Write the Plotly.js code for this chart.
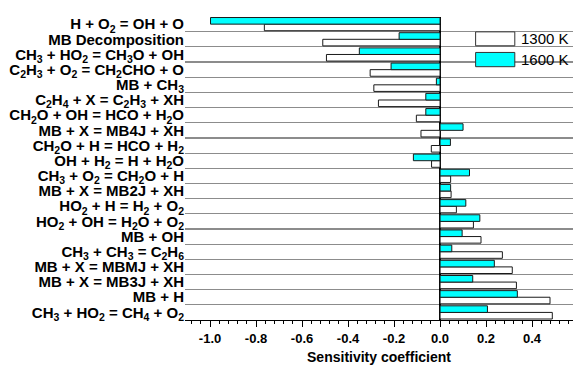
<!DOCTYPE html>
<html>
<head>
<meta charset="utf-8">
<script src="https://cdn.plot.ly/plotly-3.0.1.min.js"></script>
<style>html,body{margin:0;padding:0;background:#fff;}#chart{width:574px;height:365px;}</style>
</head>
<body>
<div id="chart"></div>
<script>
// Reactions, listed top to bottom as in the chart
const reactions = [
  'H + O<sub>2</sub> = OH + O',
  'MB Decomposition',
  'CH<sub>3</sub> + HO<sub>2</sub> = CH<sub>3</sub>O + OH',
  'C<sub>2</sub>H<sub>3</sub> + O<sub>2</sub> = CH<sub>2</sub>CHO + O',
  'MB + CH<sub>3</sub>',
  'C<sub>2</sub>H<sub>4</sub> + X = C<sub>2</sub>H<sub>3</sub> + XH',
  'CH<sub>2</sub>O + OH = HCO + H<sub>2</sub>O',
  'MB + X = MB4J + XH',
  'CH<sub>2</sub>O + H = HCO + H<sub>2</sub>',
  'OH + H<sub>2</sub> = H + H<sub>2</sub>O',
  'CH<sub>3</sub> + O<sub>2</sub> = CH<sub>2</sub>O + H',
  'MB + X = MB2J + XH',
  'HO<sub>2</sub> + H = H<sub>2</sub> + O<sub>2</sub>',
  'HO<sub>2</sub> + OH = H<sub>2</sub>O + O<sub>2</sub>',
  'MB + OH',
  'CH<sub>3</sub> + CH<sub>3</sub> = C<sub>2</sub>H<sub>6</sub>',
  'MB + X = MBMJ + XH',
  'MB + X = MB3J + XH',
  'MB + H',
  'CH<sub>3</sub> + HO<sub>2</sub> = CH<sub>4</sub> + O<sub>2</sub>'
];

const sens1300 = [-0.764, -0.51, -0.494, -0.304, -0.288, -0.268, -0.103, -0.083, -0.038, -0.037,
                  0.046, 0.048, 0.071, 0.145, 0.178, 0.271, 0.314, 0.332, 0.478, 0.488];
const sens1600 = [-0.998, -0.178, -0.351, -0.213, -0.016, -0.062, -0.062, 0.100, 0.045, -0.116,
                  0.128, 0.046, 0.112, 0.173, 0.096, 0.051, 0.236, 0.142, 0.336, 0.206];

const seriesNames = ['1300 K', '1600 K'];
const xTickVals = [-1.0, -0.8, -0.6, -0.4, -0.2, 0.0, 0.2, 0.4];
const xTickText = ['-1.0', '-0.8', '-0.6', '-0.4', '-0.2', '0.0', '0.2', '0.4'];

const FONT = 'Liberation Sans, Arial, Helvetica, sans-serif';

const traces = [
  {
    type: 'bar', orientation: 'h', name: seriesNames[0],
    y: reactions, x: sens1300,
    marker: {color: '#ffffff', line: {color: '#1a1a1a', width: 1}},
    showlegend: false, hoverinfo: 'x+name'
  },
  {
    type: 'bar', orientation: 'h', name: seriesNames[1],
    y: reactions, x: sens1600,
    marker: {color: '#00ffff', line: {color: '#1a1a1a', width: 1}},
    showlegend: false, hoverinfo: 'x+name'
  }
];

// hand-drawn legend (wide swatches as in the original)
const legShapes = [
  {type: 'rect', xref: 'paper', yref: 'paper', x0: 0.749, x1: 0.850, y0: 0.905, y1: 0.951,
   fillcolor: '#ffffff', line: {color: '#333', width: 1}, layer: 'above'},
  {type: 'rect', xref: 'paper', yref: 'paper', x0: 0.749, x1: 0.850, y0: 0.836, y1: 0.883,
   fillcolor: '#00ffff', line: {color: '#333', width: 1}, layer: 'above'}
];
const legAnn = [
  {xref: 'paper', yref: 'paper', x: 0.862, y: 0.928, xanchor: 'left', yanchor: 'middle',
   text: seriesNames[0], showarrow: false, font: {family: FONT, size: 15, color: '#000'}},
  {xref: 'paper', yref: 'paper', x: 0.862, y: 0.860, xanchor: 'left', yanchor: 'middle',
   text: seriesNames[1], showarrow: false, font: {family: FONT, size: 15, color: '#000'}}
];

const layout = {
  width: 574, height: 365,
  margin: {l: 185, r: 1, t: 17, b: 45, pad: 0},
  paper_bgcolor: '#fff', plot_bgcolor: '#fff',
  barmode: 'group', bargap: 0.13, bargroupgap: 0,
  font: {family: FONT, color: '#000'},
  xaxis: {
    range: [-1.109, 0.578],
    tickmode: 'array', tickvals: xTickVals, ticktext: xTickText,
    ticks: 'outside', ticklen: 6, tickwidth: 1, tickcolor: '#000',
    minor: {tickmode: 'linear', tick0: 0, dtick: 0.04, ticks: 'outside', ticklen: 3, tickcolor: '#000', showgrid: false},
    tickfont: {family: FONT, size: 13, weight: 'bold', color: '#000'},
    showline: true, linecolor: '#000', linewidth: 1,
    showgrid: false,
    zeroline: true, zerolinecolor: '#000', zerolinewidth: 1.5,
    title: {text: 'Sensitivity coefficient', font: {family: FONT, size: 14, weight: 'bold', color: '#000'}, standoff: 13},
    automargin: false, fixedrange: true
  },
  yaxis: {
    type: 'category',
    categoryorder: 'array', categoryarray: reactions.slice().reverse(),
    range: [-0.5, 19.47],
    tickmode: 'linear', tick0: 0, dtick: 1,
    tickson: 'boundaries', ticks: '', ticklen: 0,
    showgrid: true, gridcolor: '#8c8c8c', gridwidth: 1.2,
    showline: false, zeroline: false,
    tickfont: {family: FONT, size: 15, weight: 'bold', color: '#000'},
    automargin: false, fixedrange: true
  },
  shapes: legShapes,
  annotations: legAnn,
  showlegend: false
};

Plotly.newPlot('chart', traces, layout, {displayModeBar: false, staticPlot: true});
</script>
</body>
</html>
